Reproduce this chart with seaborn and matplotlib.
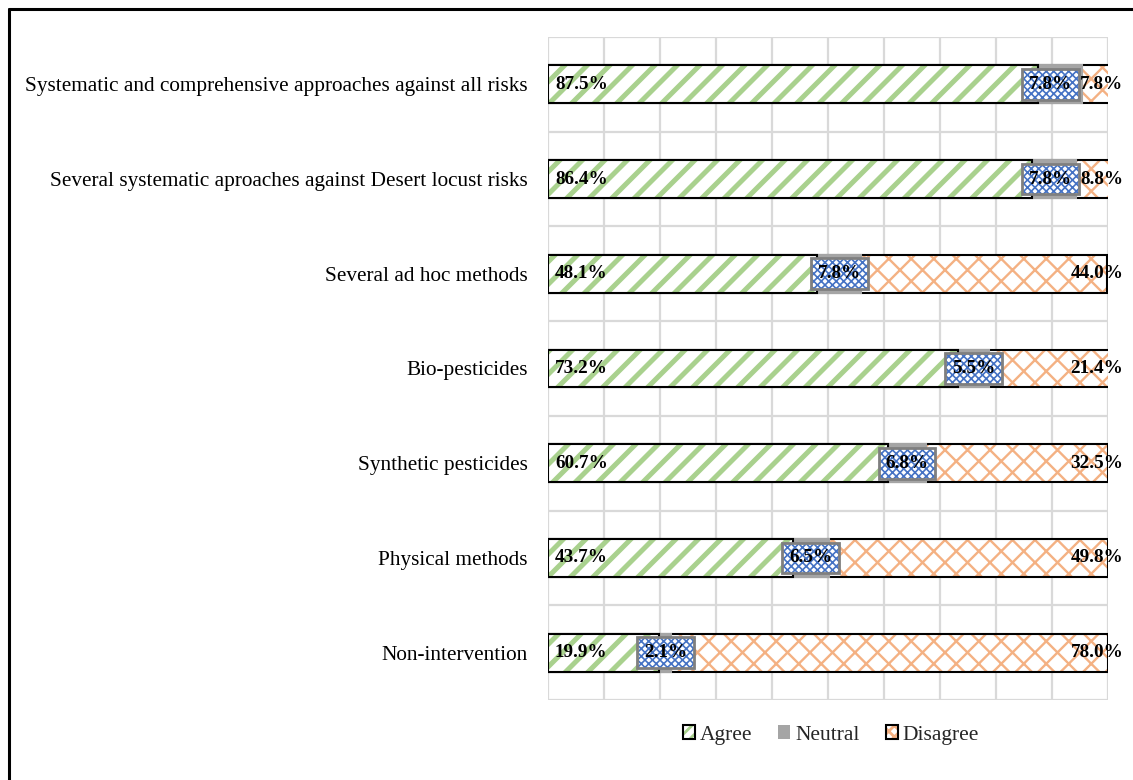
import numpy as np
import pandas as pd
import matplotlib
matplotlib.use("Agg")
import matplotlib.pyplot as plt
import seaborn as sns
from matplotlib.patches import Patch
from matplotlib.lines import Line2D
from matplotlib.legend_handler import HandlerTuple

# Survey responses (% of respondents) per locust-control approach
categories = [
    "Systematic and comprehensive approaches against all risks",
    "Several systematic aproaches against Desert locust risks",
    "Several ad hoc methods",
    "Bio-pesticides",
    "Synthetic pesticides",
    "Physical methods",
    "Non-intervention",
]
agree = [87.5, 86.4, 48.1, 73.2, 60.7, 43.7, 19.9]
neutral = [7.8, 7.8, 7.8, 5.5, 6.8, 6.5, 2.1]
disagree = [7.8, 8.8, 44.0, 21.4, 32.5, 49.8, 78.0]
series_names = ["Agree", "Neutral", "Disagree"]

GREEN = "#A9D18E"
GRAY = "#A5A5A5"
ORANGE = "#F4B183"
BLUE = "#4472C4"
GRID = "#D9D9D9"

# Render at a higher dpi so the hatch pattern is coarser; sizes below are
# given for a 100-dpi canvas and scaled by K.
DPI = 135
K = 100 / DPI
FS_CAT = 15.3 * K
FS_VAL = 13.8 * K
FS_LEG = 15.5 * K

sns.set_theme(style="white")
plt.rcParams["font.family"] = ["Liberation Serif", "DejaVu Serif"]

df = pd.DataFrame({"category": categories, "agree": agree,
                   "neutral": neutral, "disagree": disagree})
df["upto_neutral"] = df["agree"] + df["neutral"]
df["total"] = df["upto_neutral"] + df["disagree"]

W, H = 1133, 780
fig = plt.figure(figsize=(W / DPI, H / DPI), dpi=DPI)
ax = fig.add_axes([548 / W, 1 - 700 / H, 560 / W, 663 / H])

BAR_W = 0.4


def hatched_layer(col, hatch_color, hatch, hatch_lw):
    plt.rcParams["hatch.linewidth"] = hatch_lw * K
    sns.barplot(data=df, x=col, y="category", orient="h", ax=ax,
                width=BAR_W, errorbar=None, saturation=1,
                facecolor="white", edgecolor=hatch_color, linewidth=0,
                hatch=hatch)


def outline_layer(col, color, lw):
    sns.barplot(data=df, x=col, y="category", orient="h", ax=ax,
                width=BAR_W, errorbar=None, saturation=1,
                facecolor="none", edgecolor=color, linewidth=lw * K)


# Stacked segments drawn as overlapping cumulative bars
hatched_layer("total", ORANGE, "xx", 1.7)
outline_layer("total", "black", 1.5)
sns.barplot(data=df, x="upto_neutral", y="category", orient="h", ax=ax,
            width=BAR_W, errorbar=None, saturation=1,
            facecolor=GRAY, edgecolor=GRAY, linewidth=1.5 * K)
hatched_layer("agree", GREEN, "//", 3.6)
outline_layer("agree", "black", 1.5)

ax.set_xlim(0, 100)
ax.set_ylim(len(categories) - 0.5, -0.5)
ax.set_xlabel("")
ax.set_ylabel("")
for s in ax.spines.values():
    s.set_visible(False)

ax.set_xticks(np.arange(0, 101, 10))
ax.set_yticks(np.arange(-0.5, len(categories), 1), minor=True)
ax.xaxis.grid(True, color=GRID, lw=1.6 * K)
ax.yaxis.grid(True, which="minor", color=GRID, lw=1.6 * K)
ax.yaxis.grid(False, which="major")
ax.set_axisbelow(True)
ax.tick_params(axis="x", which="both", length=0, labelbottom=False)
ax.tick_params(axis="y", which="both", length=0, pad=14.4 * K,
               labelsize=FS_CAT)
for lab in ax.get_yticklabels():
    lab.set_color("black")

# Value labels
box_pad = "square,pad=0.36"
disagree_texts, neutral_texts = [], []
for i in range(len(categories)):
    a, n, d = agree[i], neutral[i], disagree[i]
    ax.annotate(f"{a:.1f}%", xy=(0, i), xytext=(5 * K, 0),
                textcoords="offset points", ha="left", va="center",
                fontsize=FS_VAL, fontweight="bold", color="black")
    dt = ax.annotate(f"{d:.1f}%", xy=(100, i), xytext=(11 * K, 0),
                     textcoords="offset points", ha="right", va="center",
                     fontsize=FS_VAL, fontweight="bold", color="black",
                     zorder=6)
    disagree_texts.append(dt)
    xc = a + n / 2
    plt.rcParams["hatch.linewidth"] = 1.2 * K
    t_fill = ax.text(xc, i, f"{n:.1f}%", ha="center", va="center",
                     fontsize=FS_VAL, fontweight="bold", color="none",
                     zorder=4,
                     bbox=dict(boxstyle=box_pad, facecolor="white",
                               edgecolor=BLUE, linewidth=0,
                               hatch="xxxxxx"))
    t_edge = ax.text(xc, i, f"{n:.1f}%", ha="center", va="center",
                     fontsize=FS_VAL, fontweight="bold", color="black",
                     zorder=5,
                     bbox=dict(boxstyle=box_pad, facecolor="none",
                               edgecolor="#7F7F7F", linewidth=2 * K))
    neutral_texts.append((t_fill, t_edge))

# Slide a neutral label box left when it would run into the disagree label
fig.canvas.draw()
renderer = fig.canvas.get_renderer()
inv = ax.transData.inverted()
for (t_fill, t_edge), dt in zip(neutral_texts, disagree_texts):
    box = t_edge.get_bbox_patch().get_window_extent(renderer)
    lab = dt.get_window_extent(renderer)
    if box.x1 > lab.x0:
        shift = box.x1 - lab.x0 + 1
        x0, y0 = t_edge.get_position()
        x_pix, y_pix = ax.transData.transform((x0, y0))
        new_x = inv.transform((x_pix - shift, y_pix))[0]
        for t in (t_fill, t_edge):
            t.set_position((new_x, y0))

# Legend
plt.rcParams["hatch.linewidth"] = 2.0 * K
handles = [
    (Patch(facecolor="white", edgecolor=GREEN, hatch="////", lw=0),
     Patch(facecolor="none", edgecolor="black", lw=1.5 * K)),
    Patch(facecolor=GRAY, edgecolor="none"),
    (Patch(facecolor="white", edgecolor=ORANGE, hatch="xxxx", lw=0),
     Patch(facecolor="none", edgecolor="black", lw=1.5 * K)),
]
fig.legend(handles, series_names, loc="center",
           bbox_to_anchor=(831 / W, 1 - 735 / H), ncol=3, frameon=False,
           fontsize=FS_LEG, handlelength=0.56, handleheight=0.56,
           handletextpad=0.23, columnspacing=1.2,
           handler_map={tuple: HandlerTuple(ndivide=1)})

# Outer frame
fig.add_artist(Line2D([8.5 / W, 8.5 / W], [0, 1 - 8.5 / H],
                      transform=fig.transFigure, color="black", lw=2.2 * K))
fig.add_artist(Line2D([8.5 / W, 1], [1 - 8.5 / H, 1 - 8.5 / H],
                      transform=fig.transFigure, color="black", lw=2.2 * K))

fig.savefig("out.png", dpi=DPI)
